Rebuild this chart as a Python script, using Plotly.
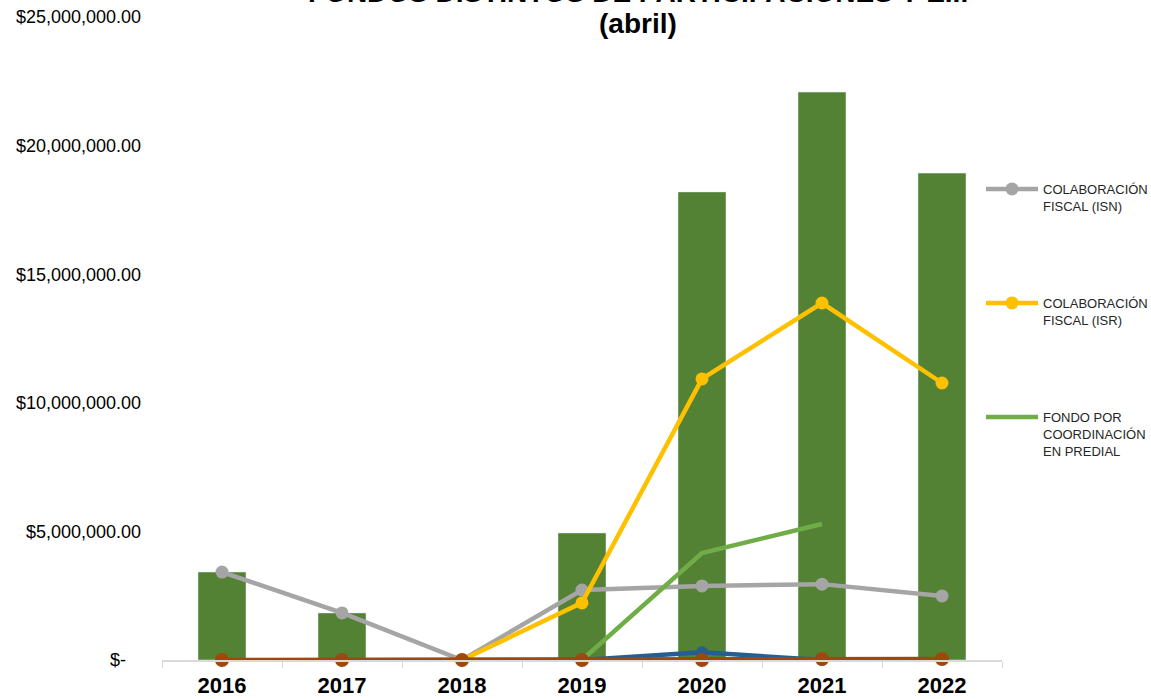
import plotly.graph_objects as go

years = ["2016", "2017", "2018", "2019", "2020", "2021", "2022"]
bar_total = [3420000, 1830000, 0, 4940000, 18200000, 22080000, 18930000]
isn = [3420000, 1830000, 0, 2720000, 2880000, 2950000, 2490000]
isr = [None, None, 0, 2220000, 10930000, 13880000, 10770000]
predial = [None, None, None, 0, 4160000, 5290000, None]
blue_series = [None, None, None, 0, 300000, 0, None]
brown_series = [0, 0, 0, 0, 0, 40000, 40000]

y_ticks = [0, 5000000, 10000000, 15000000, 20000000, 25000000]
y_tick_text = ["$-\u00a0\u00a0\u00a0", "$5,000,000.00", "$10,000,000.00", "$15,000,000.00",
               "$20,000,000.00", "$25,000,000.00"]
x_tick_text = ["<b>" + y + "</b>" for y in years]

fig = go.Figure()
fig.add_trace(go.Bar(x=years, y=bar_total, marker_color="#548235", width=0.4,
                     showlegend=False, name="TOTAL"))
fig.add_trace(go.Scatter(x=years, y=isn, mode="lines+markers", name="COLABORACIÓN<br>FISCAL (ISN)",
                         line=dict(color="#A5A5A5", width=4.5), marker=dict(size=13, color="#A5A5A5"),
                         legend="legend", cliponaxis=False))
fig.add_trace(go.Scatter(x=years, y=isr, mode="lines+markers", name="COLABORACIÓN<br>FISCAL (ISR)",
                         line=dict(color="#FFC000", width=4.5), marker=dict(size=13, color="#FFC000"),
                         legend="legend2", cliponaxis=False))
fig.add_trace(go.Scatter(x=years, y=predial, mode="lines", name="FONDO POR<br>COORDINACIÓN<br>EN PREDIAL",
                         line=dict(color="#70AD47", width=4.5), legend="legend3", cliponaxis=False))
fig.add_trace(go.Scatter(x=years, y=blue_series, mode="lines+markers", showlegend=False,
                         line=dict(color="#255E91", width=4.5), marker=dict(size=12, color="#255E91"),
                         cliponaxis=False))
fig.add_trace(go.Scatter(x=years, y=brown_series, mode="lines+markers", showlegend=False,
                         line=dict(color="#9E480E", width=4.5), marker=dict(size=14, color="#9E480E"),
                         cliponaxis=False))

legend_common = dict(font=dict(family="Arial, Liberation Sans", size=13, color="#262626"),
                     bgcolor="rgba(0,0,0,0)", valign="top", xanchor="left", yanchor="top",
                     xref="container", x=981 / 1151, itemwidth=52)
PH = 643.0
def py(pix):
    return 1 - (pix - 17) / PH

fig.update_layout(
    width=1151, height=699, autosize=False,
    margin=dict(l=162, r=149, t=17, b=39, autoexpand=False),
    paper_bgcolor="white", plot_bgcolor="white",
    bargap=0.6,
    legend=dict(**legend_common, y=py(174)),
    legend2=dict(**legend_common, y=py(288)),
    legend3=dict(**legend_common, y=py(402)),
    font=dict(family="Arial, Liberation Sans", color="#000000"),
    xaxis=dict(type="category", showline=True, linecolor="#D9D9D9", linewidth=1.5,
               ticks="outside", tickson="boundaries", ticklen=6, tickcolor="#D9D9D9",
               tickvals=years, ticktext=x_tick_text, automargin=False, ticklabelstandoff=5,
               showgrid=False, tickfont=dict(family="Arial, Liberation Sans", size=22, color="#000000"),
               range=[-0.5, 6.5]),
    yaxis=dict(range=[0, 25000000], tickvals=y_ticks, ticktext=y_tick_text, showgrid=False,
               zeroline=False, showline=False, ticks="", automargin=False,
               tickfont=dict(family="Arial, Liberation Sans", size=18, color="#000000"),
               ticklabelstandoff=20),
    annotations=[
        dict(text="<b>FONDOS DISTINTOS DE PARTICIPACIONES Y E.I.</b>", xref="paper", yref="paper",
             x=(638 - 162) / 840, y=py(-7), xanchor="center", yanchor="middle", showarrow=False,
             font=dict(family="Arial, Liberation Sans", size=28, color="#000000")),
        dict(text="<b>(abril)</b>", xref="paper", yref="paper",
             x=(638 - 162) / 840, y=py(24), xanchor="center", yanchor="middle", showarrow=False,
             font=dict(family="Arial, Liberation Sans", size=28, color="#000000")),
    ],
)

fig.write_html("out.html", config={"responsive": False, "displayModeBar": False},
               post_script="document.body.style.margin='0';document.body.style.overflow='hidden';")
